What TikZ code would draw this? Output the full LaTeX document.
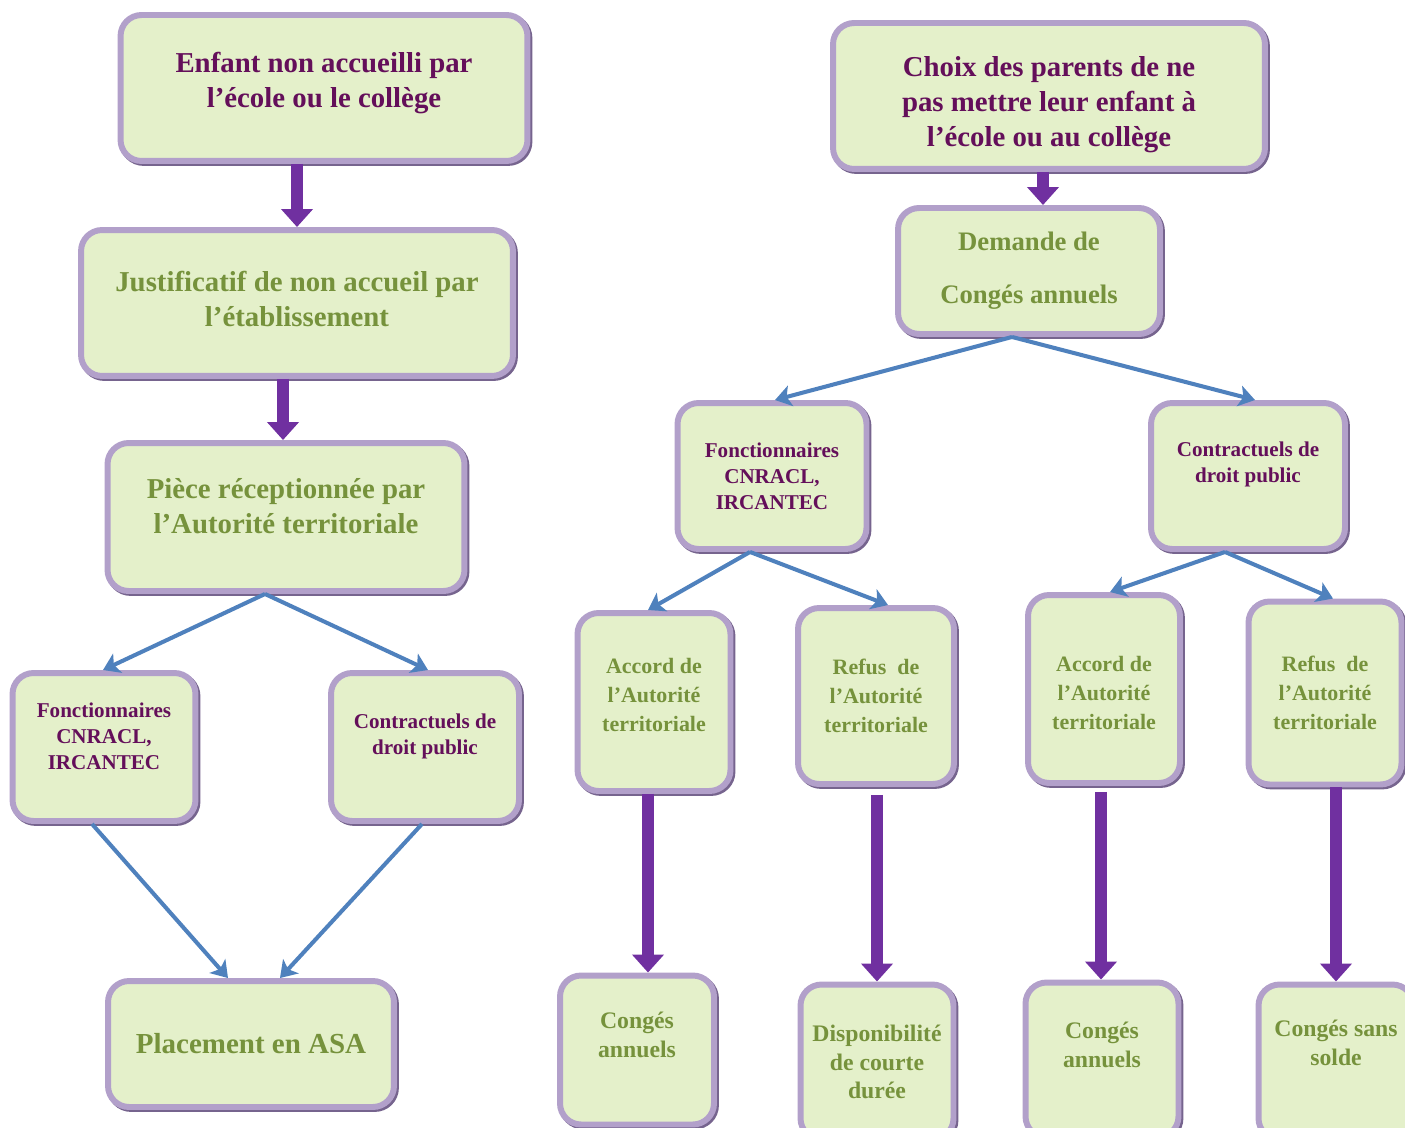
\documentclass[tikz,border=0pt]{standalone}
\usepackage{fontspec}
\setmainfont{Liberation Serif}
\usepackage{tikz}
\usetikzlibrary{positioning,calc,arrows.meta,shadows}
\definecolor{FrameLilac}{RGB}{178,160,202}
\definecolor{FrameDark}{RGB}{118,100,142}
\definecolor{BoxGreen}{RGB}{228,240,202}
\definecolor{TextPurple}{RGB}{100,15,90}
\definecolor{TextGreen}{RGB}{118,146,60}
\definecolor{ArrowPurple}{RGB}{112,48,160}
\definecolor{ArrowBlue}{RGB}{79,129,189}
\tikzset{
    box/.style={rectangle, rounded corners=12pt, draw=FrameLilac, line width=3.4pt, fill=BoxGreen, align=center, inner sep=2pt,
        drop shadow={shadow xshift=1.8pt, shadow yshift=-1.8pt, opacity=0.4},
        preaction={draw=FrameDark, line width=3.4pt, transform canvas={xshift=1.1pt, yshift=-1.1pt}}},
    arrow_purple/.style={draw=ArrowPurple, line width=0.24cm, -{Triangle[width=0.62cm, length=0.36cm]}},
    arrow_blue/.style={draw=ArrowBlue, line width=2.3pt, -{Stealth[width=0.42cm, length=0.32cm, inset=0.08cm]}}
}

\begin{document}
\begin{tikzpicture}[
        x=0.02cm, y=-0.02cm,
        % --- CHỮ ---
        f_big/.style={font=\bfseries\fontsize{16.4}{19.8}\selectfont},
        f_mid/.style={font=\bfseries\fontsize{15.2}{18}\selectfont},
        f_acc/.style={font=\bfseries\fontsize{12.5}{16.4}\selectfont},
        f_low/.style={font=\bfseries\fontsize{13.5}{16.4}\selectfont},
        f_small/.style={font=\bfseries\fontsize{12}{14.7}\selectfont},
        purple/.style={text=TextPurple},
        green/.style={text=TextGreen},
        % --- DỊCH CHỮ ---
        lift/.style={text depth=#1},
        sink/.style={text height=#1}
    ]
    \useasboundingbox (0,0) rectangle (1405,1128);

    % --- CỘT TRÁI ---
    \node[box, f_big, purple, lift=9.2pt, minimum width=8.14cm, minimum height=2.92cm] (enfant) at (324,88) {Enfant non accueilli par\\l’école ou le collège};
    \node[box, f_big, green, lift=4.5pt, minimum width=8.64cm, minimum height=2.92cm] (justif) at (297,303) {Justificatif de non accueil par\\l’établissement};
    \node[box, f_big, green, lift=12.4pt, minimum width=7.14cm, minimum height=2.96cm] (piece) at (286,517) {Pièce réceptionnée par\\l’Autorité territoriale};
    \node[box, f_small, purple, lift=12.4pt, minimum width=3.66cm, minimum height=2.96cm] (fonctG) at (104,747) {Fonctionnaires\\CNRACL,\\IRCANTEC};
    \node[box, f_small, purple, lift=15pt, minimum width=3.76cm, minimum height=2.96cm] (contrG) at (425,747) {Contractuels de\\droit public};
    \node[box, font=\bfseries\fontsize{16.5}{20}\selectfont, green, minimum width=5.72cm, minimum height=2.52cm] (asa) at (251,1044) {Placement en ASA};

    % --- CỘT PHẢI ---
    \node[box, f_big, purple, sink=61pt, minimum width=8.64cm, minimum height=2.92cm] (choix) at (1049,96) {Choix des parents de ne\\pas mettre leur enfant à\\l’école ou au collège};
    \node[box, f_mid, green, minimum width=5.24cm, minimum height=2.52cm] (demande) at (1029,271) {Demande de\\[12pt]Congés annuels};
    \node[box, f_small, purple, minimum width=3.78cm, minimum height=2.92cm] (fonctD) at (772,476) {Fonctionnaires\\CNRACL,\\IRCANTEC};
    \node[box, f_small, purple, lift=16.2pt, minimum width=3.88cm, minimum height=2.92cm] (contrD) at (1248,476) {Contractuels de\\droit public};

    \node[box, f_acc, green, lift=8pt, minimum width=3.06cm, minimum height=3.56cm] (accord1) at (654,702) {Accord de\\l’Autorité\\territoriale};
    \node[box, f_acc, green, minimum width=3.12cm, minimum height=3.52cm] (refus1) at (876,696) {Refus~ de\\l’Autorité\\territoriale};
    \node[box, f_acc, green, sink=46pt, minimum width=3.04cm, minimum height=3.76cm] (accord2) at (1104,689) {Accord de\\l’Autorité\\territoriale};
    \node[box, f_acc, green, minimum width=3.06cm, minimum height=3.66cm] (refus2) at (1325,693) {Refus~ de\\l’Autorité\\territoriale};

    \node[box, f_low, green, lift=17pt, minimum width=3.08cm, minimum height=2.98cm] (conges1) at (637,1050) {Congés\\annuels};
    \node[box, f_low, green, minimum width=3.06cm, minimum height=3.1cm] (dispo) at (877,1062) {Disponibilité\\de courte\\durée};
    \node[box, f_low, green, lift=17pt, minimum width=3.06cm, minimum height=3.1cm] (conges2) at (1102,1060) {Congés\\annuels};
    \node[box, f_low, green, lift=21.5pt, minimum width=3.1cm, minimum height=3.1cm] (sansSolde) at (1336,1062) {Congés sans\\solde};

    % --- MŨI TÊN TÍM ---
    \draw[arrow_purple] ([xshift=-0.54cm]enfant.south) -- ([xshift=-0.54cm]enfant.south |- justif.north);
    \draw[arrow_purple] ([xshift=-0.28cm]justif.south) -- ([xshift=-0.28cm]justif.south |- piece.north);
    \draw[arrow_purple] ([xshift=-0.12cm]choix.south) -- ([xshift=-0.12cm]choix.south |- demande.north);
    \draw[arrow_purple] ([xshift=-0.12cm]accord1.south) -- ([xshift=-0.12cm]accord1.south |- conges1.north);
    \draw[arrow_purple] ([xshift=0.02cm,yshift=-0.16cm]refus1.south) -- ([xshift=0.02cm]refus1.south |- dispo.north);
    \draw[arrow_purple] ([xshift=-0.06cm,yshift=-0.12cm]accord2.south) -- ([xshift=-0.06cm]accord2.south |- conges2.north);
    \draw[arrow_purple] ([xshift=0.22cm]refus2.south) -- ([xshift=0.22cm]refus2.south |- sansSolde.north);

    % --- MŨI TÊN XANH ---
    \draw[arrow_blue] ([xshift=-0.42cm]piece.south) -- ([xshift=-0.02cm]fonctG.north);
    \draw[arrow_blue] ([xshift=-0.42cm]piece.south) -- ([xshift=0.06cm]contrG.north);
    \draw[arrow_blue] ([xshift=-0.24cm]fonctG.south) -- ([xshift=-0.46cm]asa.north);
    \draw[arrow_blue] ([xshift=-0.06cm]contrG.south) -- ([xshift=0.58cm]asa.north);
    \draw[arrow_blue] ([xshift=-0.34cm]demande.south) -- ([xshift=0.06cm]fonctD.north);
    \draw[arrow_blue] ([xshift=-0.34cm]demande.south) -- ([xshift=0.14cm]contrD.north);
    \draw[arrow_blue] ([xshift=-0.44cm]fonctD.south) -- ([xshift=-0.12cm]accord1.north);
    \draw[arrow_blue] ([xshift=-0.44cm]fonctD.south) -- ([xshift=0.24cm]refus1.north);
    \draw[arrow_blue] ([xshift=-0.46cm]contrD.south) -- ([xshift=0.12cm]accord2.north);
    \draw[arrow_blue] ([xshift=-0.46cm]contrD.south) -- ([xshift=0.16cm]refus2.north);

\end{tikzpicture}
\end{document}
